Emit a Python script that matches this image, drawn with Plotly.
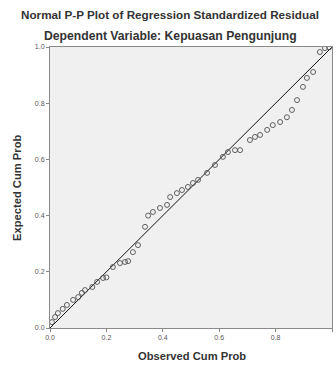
import plotly.graph_objects as go

observed_cum_prob = [0.007, 0.018, 0.028, 0.045, 0.06, 0.082, 0.10, 0.113, 0.124, 0.15,
                     0.167, 0.188, 0.20, 0.223, 0.248, 0.266, 0.277, 0.294, 0.312, 0.337,
                     0.348, 0.365, 0.39, 0.415, 0.426, 0.45, 0.468, 0.489, 0.507, 0.525,
                     0.557, 0.585, 0.613, 0.631, 0.656, 0.674, 0.709, 0.727, 0.745, 0.77,
                     0.79, 0.816, 0.84, 0.858, 0.876, 0.897, 0.911, 0.933, 0.957, 0.975, 0.99]
expected_cum_prob = [0.021, 0.039, 0.053, 0.068, 0.082, 0.10, 0.11, 0.125, 0.135, 0.146,
                     0.164, 0.178, 0.18, 0.217, 0.231, 0.235, 0.238, 0.27, 0.295, 0.36,
                     0.40, 0.413, 0.427, 0.438, 0.466, 0.48, 0.491, 0.502, 0.516, 0.527,
                     0.552, 0.58, 0.609, 0.626, 0.633, 0.633, 0.669, 0.68, 0.687, 0.705,
                     0.722, 0.733, 0.75, 0.776, 0.811, 0.858, 0.89, 0.911, 0.982, 0.996, 0.999]
ref_line = [0.0, 1.0]
tick_vals = [0.0, 0.2, 0.4, 0.6, 0.8, 1.0]
tick_text = ["0.0", "0.2", "0.4", "0.6", "0.8", "1.0"]

W, H = 336, 367
L, R, T, B = 50, 4, 47, 39
plot_w = W - L - R
plot_h = H - T - B

def py(pix):
    return (H - B - pix) / plot_h

def px(pix):
    return (pix - L) / plot_w

fig = go.Figure()
fig.add_trace(go.Scatter(x=ref_line, y=ref_line, mode="lines",
                         line=dict(color="#111111", width=1), hoverinfo="skip"))
fig.add_trace(go.Scatter(x=observed_cum_prob, y=expected_cum_prob, mode="markers",
                         marker=dict(symbol="circle-open", size=5,
                                     line=dict(color="#505050", width=0.9), color="#505050")))

axis_common = dict(range=[0, 1], tickvals=tick_vals, ticktext=tick_text,
                   showgrid=False, zeroline=False, showline=True, mirror=True,
                   linecolor="#8a8a8a", linewidth=1, ticks="outside", ticklen=3,
                   tickcolor="#8a8a8a", tickfont=dict(size=7, color="#555555",
                                                      family="Liberation Sans, Arial"))
fig.update_xaxes(**axis_common)
fig.update_yaxes(**axis_common)

font_fam = "Liberation Sans, Arial, sans-serif"
annotations = [
    dict(text="<b>Normal P-P Plot of Regression Standardized Residual</b>", x=px(170), y=py(14),
         font=dict(size=11.7, color="#333333", family=font_fam)),
    dict(text="<b>Dependent Variable: Kepuasan Pengunjung</b>", x=px(170), y=py(36),
         font=dict(size=12.2, color="#333333", family=font_fam)),
    dict(text="<b>Observed Cum Prob</b>", x=px(192), y=py(356),
         font=dict(size=11.2, color="#333333", family=font_fam)),
    dict(text="<b>Expected Cum Prob</b>", x=px(17), y=py(188), textangle=-90,
         font=dict(size=11.2, color="#333333", family=font_fam)),
]
for a in annotations:
    a.update(xref="paper", yref="paper", showarrow=False, xanchor="center", yanchor="middle")

fig.update_layout(width=W, height=H, margin=dict(l=L, r=R, t=T, b=B),
                  plot_bgcolor="#f0f0f0", paper_bgcolor="white", showlegend=False,
                  annotations=annotations)

fig.write_html("out.html", config={"displayModeBar": False},
               post_script="document.body.style.margin='0';document.body.style.padding='0';")
